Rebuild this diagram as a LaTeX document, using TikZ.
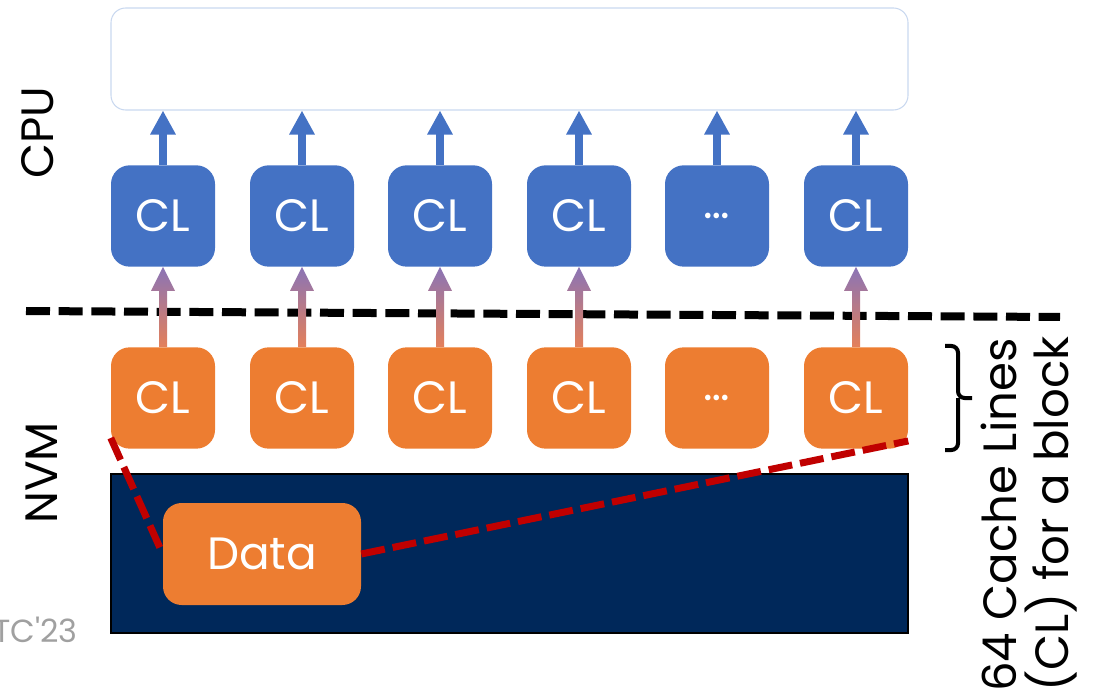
\documentclass[tikz,border=0pt]{standalone}
\usepackage{fontspec}
\setmainfont{Poppins}
\usetikzlibrary{arrows.meta,positioning,calc}
\definecolor{clBlue}{HTML}{4472C4}
\definecolor{clOrange}{HTML}{ED7D31}
\definecolor{nvmNavy}{HTML}{00285A}
\definecolor{spanRed}{HTML}{C00000}
\definecolor{cpuLine}{HTML}{C9D8EF}
\definecolor{gradTop}{HTML}{8A74B6}
\definecolor{gradBot}{HTML}{E4805A}
\definecolor{noteGray}{HTML}{A0A0A0}
\tikzset{
    >=Latex,
    cline/.style={rounded corners=14pt, minimum width=78pt, minimum height=76pt, inner sep=0pt, text=white, font=\fontsize{34}{38}\selectfont},
    cpuline/.style={cline, fill=clBlue},
    nvmline/.style={cline, fill=clOrange},
    uparrow/.style={line width=6pt, draw=clBlue, -{Triangle[width=18pt,length=18pt]}},
    boundary/.style={line width=6pt, draw=black, dash pattern=on 18pt off 6.5pt},
    spanline/.style={line width=5.25pt, draw=spanRed, dash pattern=on 18pt off 6pt},
    layer/.style={rotate=90, font=\fontsize{34}{38}\selectfont}
}
% shaded arrow from an NVM line up to its CPU line
\newcommand{\gradarrow}[2]{%
    \shade[top color=gradTop, bottom color=gradBot]
        ($(#1.north)+(-4,0)$) -- ($(#2.south)+(-4,24)$) -- ($(#2.south)+(-12,24)$)
        -- (#2.south) -- ($(#2.south)+(12,24)$) -- ($(#2.south)+(4,24)$)
        -- ($(#1.north)+(4,0)$) -- cycle;}

\begin{document}
\begin{tikzpicture}[x=0.75pt, y=-0.75pt]
\useasboundingbox (0,0) rectangle (1099,698);
% CPU side
\node[draw=cpuLine, line width=0.8pt, rounded corners=11pt, minimum width=597.75pt, minimum height=76.5pt] (cpu) at (509.5,59) {};
\node[layer] (cpulbl) at (38,133) {CPU};
\node[layer] (nvmlbl) at (42,473) {NVM};
% persistence boundary
\coordinate (bl) at (26,311);
\coordinate (br) at (1060,317);
\draw[boundary] (bl) -- (br);
% NVM block
\node[fill=nvmNavy, draw=black, line width=1.2pt, minimum width=597.75pt, minimum height=119.25pt] (block) at (509.5,553.5) {};
\node[nvmline, minimum width=148.5pt, minimum height=76.5pt] (data) at (262,554) {Data};
\foreach \i/\x/\t in {1/163/CL,2/302/CL,3/440/CL,4/579/CL,5/717/{\ldots},6/856/CL}{
    \node[cpuline] (c\i) at (\x,216) {\t};
    \node[nvmline] (n\i) at (\x,398) {\t};
    \draw[uparrow] (c\i.north) -- (c\i.north |- cpu.south);
}
\foreach \i in {1,2,3,4,6}{
    \gradarrow{n\i}{c\i}
}
\draw[spanline] ($(n1.south west)+(0,-11)$) -- (data.west);
\draw[spanline] (data.east) -- ($(n6.south east)+(0,-8)$);
% brace and note
\coordinate (bt) at (945,346);
\coordinate (bb) at (945,450);
\coordinate (btip) at (972,398);
\draw[line width=3pt, rounded corners=5pt] (bt) -| ($(btip)+(-14,0)$) -- (btip);
\draw[line width=3pt, rounded corners=5pt] (bb) -| ($(btip)+(-14,0)$);
\node[rotate=90, anchor=north west, align=left, inner sep=0pt, font=\fontsize{35}{39}\selectfont] (note) at (981,692) {64 Cache Lines\\(CL) for a block};
\node[anchor=east, text=noteGray, inner sep=0pt, font=\fontsize{24}{26}\selectfont] (venue) at (78,630) {TC\textquotesingle23};
\end{tikzpicture}
\end{document}
